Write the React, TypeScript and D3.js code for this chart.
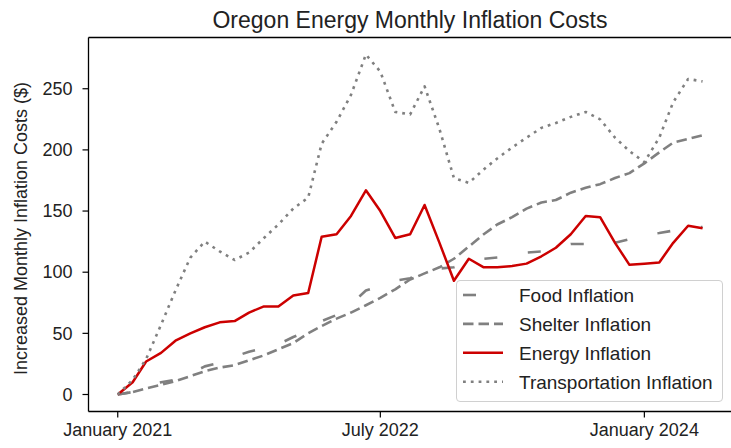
import * as d3 from "d3";

// monthly points, January 2021 .. May 2024
const months = d3.timeMonths(new Date(2021, 0, 1), new Date(2024, 5, 1));

const food = [0, 2, 5, 10, 12, 17, 23, 26, 31, 35, 38, 41, 47, 52, 60, 65, 74, 85, 89, 93, 95, 100, 103, 104, 108, 111, 112, 113, 116, 117, 119, 123, 123, 123, 124, 127, 131, 132, 134, 136, 137];
const shelter = [0, 2, 5, 8, 11, 15, 19, 22, 24, 28, 32, 37, 42, 50, 56, 62, 67, 73, 79, 86, 94, 99, 104, 111, 121, 131, 139, 145, 152, 157, 159, 165, 169, 172, 177, 181, 189, 198, 206, 209, 212];
const energy = [0, 10, 27, 34, 44, 50, 55, 59, 60, 67, 72, 72, 81, 83, 129, 131, 146, 167, 150, 128, 131, 155, 124, 93, 111, 104, 104, 105, 107, 113, 120, 131, 146, 145, 124, 106, 107, 108, 124, 138, 136];
const transport = [0, 12, 29, 57, 85, 112, 125, 117, 110, 116, 128, 139, 152, 161, 205, 223, 245, 278, 264, 231, 229, 252, 217, 177, 173, 184, 193, 202, 210, 218, 222, 227, 231, 225, 210, 199, 190, 210, 239, 258, 256];

const xTicks = [new Date(2021, 0, 1), new Date(2022, 6, 1), new Date(2024, 0, 1)];
const xTickLabels = ["January 2021", "July 2022", "January 2024"];
const yTicks = [0, 50, 100, 150, 200, 250];

const series = [
  { name: "Food Inflation", values: food, color: "#808080", dash: "13 31", width: 2.6 },
  { name: "Shelter Inflation", values: shelter, color: "#808080", dash: "10.5 5", width: 2.6 },
  { name: "Energy Inflation", values: energy, color: "#cc0000", dash: null, width: 2.5 },
  { name: "Transportation Inflation", values: transport, color: "#808080", dash: "2.8 5", width: 2.6 },
];

const W = 731, H = 448;
const M = { l: 88.5, r: 731.8, t: 37.5, b: 411.5 };
const FONT = "'Liberation Sans', Arial, Helvetica, sans-serif";

export default function App() {
  const t0 = +months[0], t1 = +months[months.length - 1], pad = (t1 - t0) * 0.05;
  const x = d3.scaleTime().domain([new Date(t0 - pad), new Date(t1 + pad)]).range([M.l, M.r]);
  const all = series.flatMap(s => s.values);
  const lo = d3.min(all)!, hi = d3.max(all)!, yp = (hi - lo) * 0.05;
  const y = d3.scaleLinear().domain([lo - yp, hi + yp]).range([M.b, M.t]);
  const line = (vals: number[]) =>
    d3.line<number>().x((_, i) => x(months[i])).y(v => y(v))(vals) || "";

  const lg = { x: 456.5, y: 280.5, w: 266, h: 121, row0: 295, step: 28.9 };

  return (
    <svg width={W} height={H} viewBox={`0 0 ${W} ${H}`}
      style={{ position: "absolute", left: 0, top: 0, fontFamily: FONT, background: "#fff" }}>
      <text x={410} y={27.5} textAnchor="middle" fontSize="23" fill="#222">Oregon Energy Monthly Inflation Costs</text>

      {series.map(s => (
        <path key={s.name} d={line(s.values)} fill="none" stroke={s.color} strokeWidth={s.width}
          strokeDasharray={s.dash || undefined} strokeLinejoin="round" />
      ))}

      {/* spines (right one falls just outside the picture) */}
      <line x1={M.l} x2={M.l} y1={M.t} y2={M.b} stroke="#000" strokeWidth="1.3" />
      <line x1={M.l} x2={M.r} y1={M.b} y2={M.b} stroke="#000" strokeWidth="1.3" />
      <line x1={M.l} x2={M.r} y1={M.t} y2={M.t} stroke="#000" strokeWidth="1.3" />

      {yTicks.map(t => (
        <g key={t}>
          <line x1={M.l - 6} x2={M.l} y1={y(t)} y2={y(t)} stroke="#000" strokeWidth="1.2" />
          <text x={M.l - 16} y={y(t) + 6.3} textAnchor="end" fontSize="18" fill="#222">{t}</text>
        </g>
      ))}
      {xTicks.map((t, i) => (
        <g key={i}>
          <line x1={x(t)} x2={x(t)} y1={M.b} y2={M.b + 6} stroke="#000" strokeWidth="1.2" />
          <text x={x(t)} y={436} textAnchor="middle" fontSize="18" fill="#222">{xTickLabels[i]}</text>
        </g>
      ))}
      <text transform={`translate(27 ${(M.t + M.b) / 2 + 4}) rotate(-90)`} textAnchor="middle" fontSize="18" fill="#222">
        Increased Monthly Inflation Costs ($)
      </text>

      {/* legend */}
      <rect x={lg.x} y={lg.y} width={lg.w} height={lg.h} rx="3.5" fill="#fff" fillOpacity="0.8" stroke="#d0d0d0" strokeWidth="1" />
      {series.map((s, i) => {
        const cy = lg.row0 + i * lg.step;
        return (
          <g key={s.name}>
            <line x1={463} x2={503} y1={cy} y2={cy} stroke={s.color} strokeWidth={s.width}
              strokeDasharray={s.dash || undefined} />
            <text x={519} y={cy + 6.8} fontSize="19" fill="#222">{s.name}</text>
          </g>
        );
      })}
    </svg>
  );
}
